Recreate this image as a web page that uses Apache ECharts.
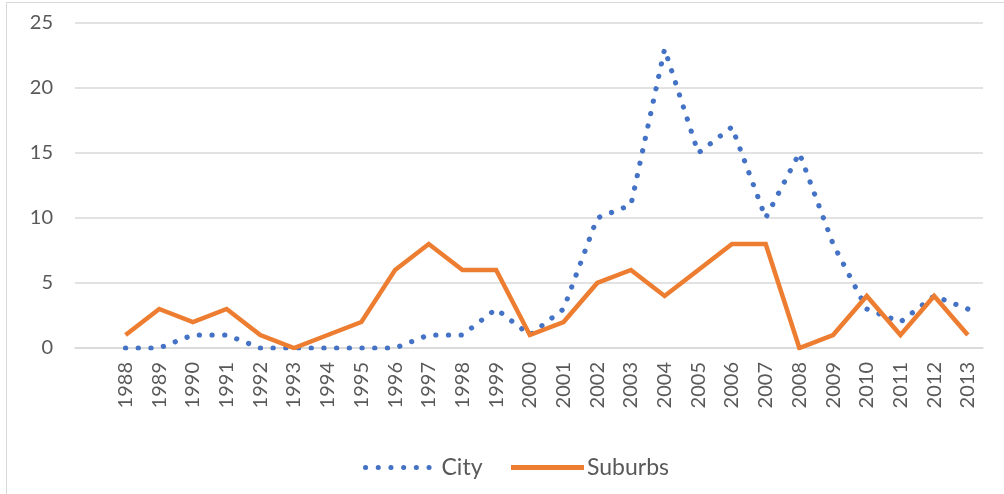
<!DOCTYPE html>
<html>
<head>
<meta charset="utf-8">
<script src="https://cdn.jsdelivr.net/npm/echarts@6/dist/echarts.min.js"></script>
<style>
  html, body { margin: 0; padding: 0; background: #ffffff; }
  #wrap { position: relative; width: 1004px; height: 494px; overflow: hidden; }
  #frame { position: absolute; left: 6px; top: 2px; width: 1020px; height: 510px;
           border: 1px solid #d9d9d9; box-sizing: border-box; pointer-events: none; }
  #chart { position: absolute; left: 0; top: 0; width: 1004px; height: 494px; }
</style>
</head>
<body>
<div id="wrap">
  <div id="chart"></div>
  <div id="frame"></div>
</div>
<script>
// Years on the horizontal axis
const years = [1988, 1989, 1990, 1991, 1992, 1993, 1994, 1995, 1996, 1997, 1998, 1999, 2000,
               2001, 2002, 2003, 2004, 2005, 2006, 2007, 2008, 2009, 2010, 2011, 2012, 2013];

// Counts per year
const city    = [0, 0, 1, 1, 0, 0, 0, 0, 0, 1, 1, 3, 1, 3, 10, 11, 23, 15, 17, 10, 15, 8, 3, 2, 4, 3];
const suburbs = [1, 3, 2, 3, 1, 0, 1, 2, 6, 8, 6, 6, 1, 2, 5, 6, 4, 6, 8, 8, 0, 1, 4, 1, 4, 1];

// Value-axis ticks
const yTicks = [0, 5, 10, 15, 20, 25];

const seriesNames = ['City', 'Suburbs'];

const textColor = '#595959';
const gridColor = '#d9d9d9';
const fontFamily = 'Lato, "Open Sans", sans-serif';

const pairs = (vals) => vals.map((v, i) => [years[i], v]);

const chart = echarts.init(document.getElementById('chart'), null, { renderer: 'canvas' });

chart.setOption({
  backgroundColor: '#ffffff',
  animation: false,
  textStyle: { fontFamily: fontFamily },
  grid: { left: 75, right: 21, top: 23, bottom: 146, containLabel: false },
  legend: {
    data: seriesNames,
    bottom: 10,
    left: 358,
    itemWidth: 73,
    itemHeight: 14,
    itemGap: 26,
    itemStyle: { opacity: 0 },
    lineStyle: { width: 5 },
    textStyle: { color: textColor, fontSize: 23, fontFamily: fontFamily, padding: [0, 0, 0, -2] }
  },
  xAxis: {
    type: 'value',
    min: 1986.5,
    max: 2013.45,
    interval: 0.5,
    splitLine: { show: false },
    axisTick: { show: false },
    axisLine: { show: true, onZero: true, lineStyle: { color: gridColor, width: 1.5 } },
    axisLabel: {
      rotate: 90,
      margin: 14,
      color: textColor,
      fontSize: 20,
      fontFamily: fontFamily,
      showMinLabel: true,
      showMaxLabel: true,
      formatter: (v) => (Math.abs(v - Math.round(v)) < 1e-6 && years.indexOf(Math.round(v)) >= 0) ? String(Math.round(v)) : ''
    }
  },
  yAxis: {
    type: 'value',
    min: yTicks[0],
    max: yTicks[yTicks.length - 1],
    interval: 5,
    axisLine: { show: false },
    axisTick: { show: false },
    splitLine: { show: true, lineStyle: { color: gridColor, width: 1.5 } },
    axisLabel: { color: textColor, fontSize: 20, margin: 22, fontFamily: fontFamily }
  },
  series: [
    {
      name: seriesNames[0],
      type: 'line',
      data: pairs(city),
      symbol: 'none',
      color: '#4472c4',
      lineStyle: { color: '#4472c4', width: 5.2, type: [0.1, 12.6], cap: 'round', join: 'round' },
      z: 2
    },
    {
      name: seriesNames[1],
      type: 'line',
      data: pairs(suburbs),
      symbol: 'none',
      color: '#ed7d31',
      lineStyle: { color: '#ed7d31', width: 4.5, cap: 'butt', join: 'miter' },
      z: 3
    }
  ]
});
</script>
</body>
</html>
